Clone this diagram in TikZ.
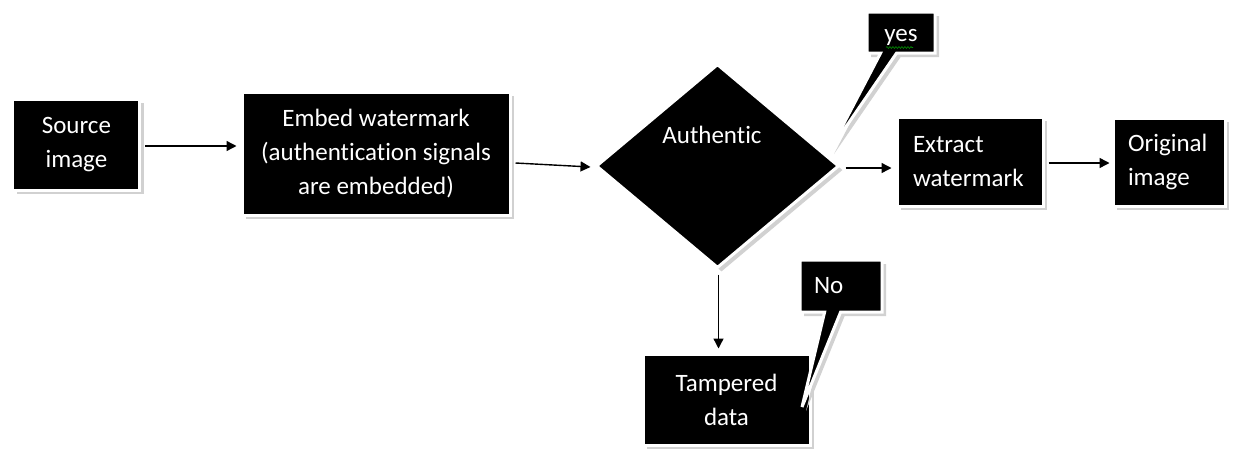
\documentclass[tikz,border=0pt]{standalone}
\usepackage{fontspec}
\setmainfont{Carlito}[Ligatures=NoCommon]
\usetikzlibrary{shapes.geometric,shapes.callouts,shadows,arrows.meta,decorations.pathmorphing}
\begin{document}
\begin{tikzpicture}[x=1pt,y=-1pt,
  blk/.style={fill=black, draw=white, line width=3pt, text=white,
    font=\fontsize{25}{34}\selectfont, inner sep=0pt,
    drop shadow={shadow xshift=4pt, shadow yshift=-4pt, fill=black!18, opacity=1}},
  txt/.style={text=white, font=\fontsize{25}{34}\selectfont, inner sep=0pt},
  arr/.style={draw=black, line width=1.4pt, -{Triangle[length=10pt,width=10pt]}},
  squig/.style={draw=green!55!black, line width=0.6pt, decorate,
    decoration={snake, amplitude=0.9pt, segment length=3pt}}]
\useasboundingbox (0,0) rectangle (1234,455);

\node[blk, minimum width=127pt, minimum height=91pt, align=center] (src) at (76.4,144.5) {Source\\image};
\node[blk, minimum width=268pt, minimum height=123pt, align=center] (emb) at (376,153.5)
  {Embed watermark\\(authentication signals\\are embedded)};
\node[blk, diamond, minimum width=243pt, minimum height=204pt] (auth) at (717.5,166) {};
\node[txt] (authtxt) at (712,135) {Authentic};
\node[blk, minimum width=146pt, minimum height=89pt, text width=114pt, inner xsep=16pt, align=left] (ext) at (970,161.5)
  {Extract\\watermark};
\node[blk, minimum width=112pt, minimum height=88pt, text width=82pt, inner xsep=15pt, align=left] (org) at (1169,162)
  {Original\\image};
\node[blk, minimum width=167pt, minimum height=91pt, align=center] (tam) at (726.5,399.5)
  {Tampered\\data};
\node[blk, rectangle callout, minimum width=68pt, minimum height=41pt, text height=23pt, text depth=6pt,
  callout absolute pointer={(830,150)}, callout pointer width=16pt] (yes) at (901,32.5) {yes};
\node[blk, rectangle callout, minimum width=82pt, minimum height=52pt, text width=54pt, inner xsep=14pt, align=left,
  callout absolute pointer={(802,407)}, callout pointer width=16pt] (no) at (841,286) {No};
\draw[squig] ([xshift=-15pt,yshift=-15pt]yes.center) -- ([xshift=12pt,yshift=-15pt]yes.center);

\draw[arr] ([xshift=4pt,yshift=-1.5pt]src.east) -- ([xshift=-4pt,yshift=-1.5pt]src.east -| emb.west);
\draw[arr] ([xshift=4pt,yshift=-9.5pt]emb.east) -- ([xshift=-4pt,yshift=-1pt]auth.west);
\draw[arr] ([xshift=5pt,yshift=-2pt]auth.east) -- ([xshift=-4pt,yshift=-2pt]auth.east -| ext.west);
\draw[arr] ([xshift=4pt,yshift=-1.5pt]ext.east) -- ([xshift=-2pt,yshift=-1.5pt]ext.east -| org.west);
\draw[arr] ([xshift=1pt,yshift=-5pt]auth.south) -- ([xshift=1pt,yshift=4pt]auth.south |- tam.north);
\end{tikzpicture}
\end{document}
